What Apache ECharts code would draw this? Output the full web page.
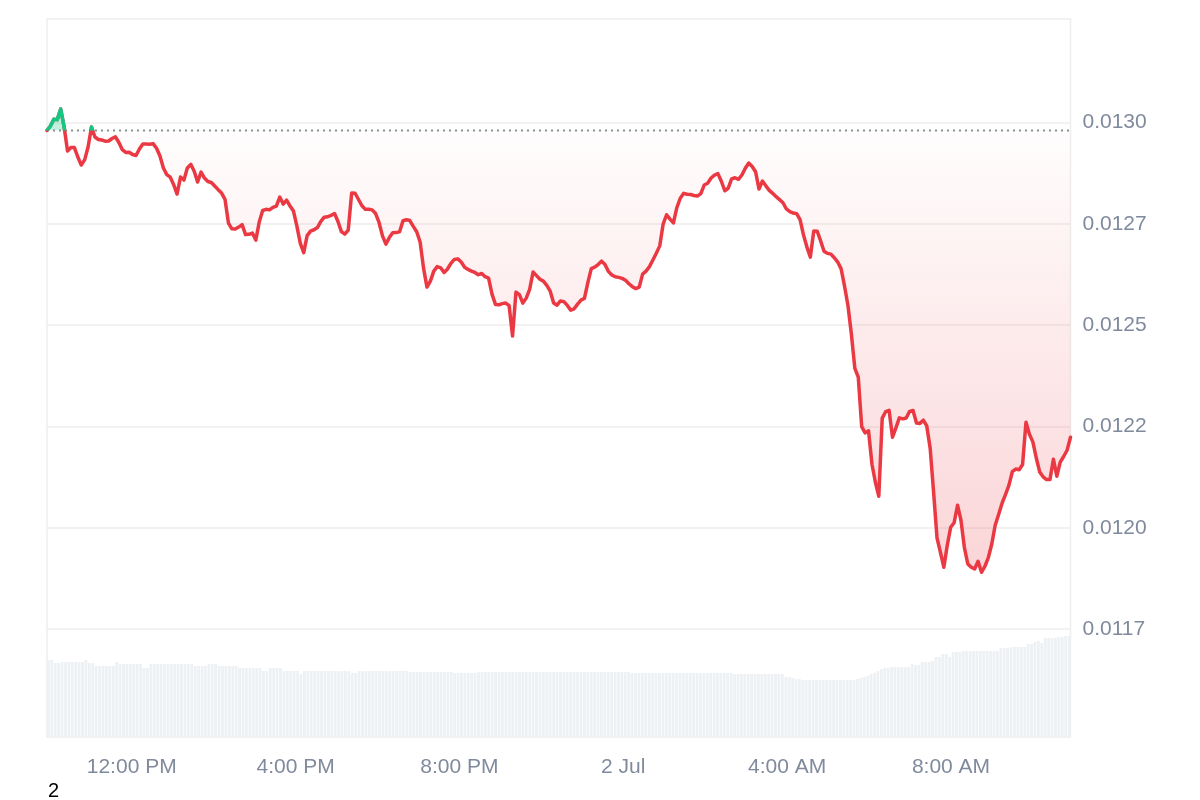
<!DOCTYPE html>
<html><head><meta charset="utf-8">
<script src="https://cdn.jsdelivr.net/npm/echarts@6/dist/echarts.min.js"></script>
<style>html,body{margin:0;padding:0;background:#fff}#c{width:1200px;height:800px}</style>
</head><body><div id="c"></div>
<script>
// ---- data ----
const startTime = Date.UTC(2024, 6, 1, 9, 58);
const stepMinutes = 5;
const prices = [
0.0129807,0.0129918,0.0130086,0.0130076,0.0130338,0.0129894,0.0129301,0.0129387,0.0129385,0.0129153,
0.0128955,0.0129083,0.0129400,0.0129894,0.0129647,0.0129585,0.0129572,0.0129545,0.0129548,0.0129610,
0.0129652,0.0129511,0.0129333,0.0129266,0.0129271,0.0129214,0.0129190,0.0129350,0.0129474,0.0129474,
0.0129469,0.0129484,0.0129370,0.0129177,0.0128881,0.0128718,0.0128654,0.0128471,0.0128238,0.0128658,
0.0128584,0.0128881,0.0128972,0.0128802,0.0128535,0.0128782,0.0128634,0.0128547,0.0128523,0.0128436,
0.0128347,0.0128263,0.0128108,0.0127522,0.0127379,0.0127374,0.0127423,0.0127482,0.0127238,0.0127245,
0.0127275,0.0127102,0.0127547,0.0127833,0.0127861,0.0127848,0.0127910,0.0127942,0.0128164,0.0127991,
0.0128090,0.0127942,0.0127819,0.0127448,0.0127021,0.0126793,0.0127213,0.0127324,0.0127357,0.0127411,
0.0127562,0.0127668,0.0127678,0.0127712,0.0127757,0.0127562,0.0127310,0.0127250,0.0127349,0.0128263,
0.0128258,0.0128103,0.0127949,0.0127861,0.0127861,0.0127848,0.0127757,0.0127537,0.0127206,0.0127003,
0.0127164,0.0127282,0.0127287,0.0127305,0.0127579,0.0127604,0.0127584,0.0127440,0.0127307,0.0127053,
0.0126410,0.0125941,0.0126089,0.0126336,0.0126447,0.0126418,0.0126299,0.0126388,0.0126529,0.0126625,
0.0126638,0.0126559,0.0126430,0.0126378,0.0126336,0.0126302,0.0126247,0.0126277,0.0126198,0.0126163,
0.0125768,0.0125514,0.0125504,0.0125533,0.0125548,0.0125482,0.0124731,0.0125817,0.0125756,0.0125546,
0.0125669,0.0125884,0.0126312,0.0126225,0.0126134,0.0126089,0.0125985,0.0125842,0.0125546,0.0125496,
0.0125600,0.0125583,0.0125489,0.0125373,0.0125405,0.0125521,0.0125620,0.0125662,0.0126052,0.0126398,
0.0126433,0.0126497,0.0126583,0.0126497,0.0126329,0.0126242,0.0126195,0.0126181,0.0126156,0.0126109,
0.0126023,0.0125951,0.0125904,0.0125941,0.0126262,0.0126336,0.0126447,0.0126610,0.0126778,0.0126959,
0.0127497,0.0127727,0.0127621,0.0127525,0.0127905,0.0128135,0.0128256,0.0128234,0.0128228,0.0128204,
0.0128189,0.0128251,0.0128461,0.0128505,0.0128634,0.0128705,0.0128742,0.0128555,0.0128320,0.0128382,
0.0128611,0.0128641,0.0128602,0.0128708,0.0128876,0.0129004,0.0128918,0.0128789,0.0128362,0.0128560,
0.0128441,0.0128330,0.0128256,0.0128174,0.0128100,0.0128024,0.0127870,0.0127804,0.0127769,0.0127754,
0.0127606,0.0127226,0.0126929,0.0126682,0.0127324,0.0127322,0.0127082,0.0126828,0.0126774,0.0126756,
0.0126665,0.0126559,0.0126391,0.0125961,0.0125479,0.0124770,0.0123935,0.0123718,0.0122497,0.0122342,
0.0122394,0.0121568,0.0121124,0.0120778,0.0122705,0.0122865,0.0122897,0.0122235,0.0122465,0.0122712,
0.0122687,0.0122710,0.0122873,0.0122895,0.0122586,0.0122576,0.0122655,0.0122515,0.0121966,0.0120887,
0.0119750,0.0119390,0.0119024,0.0119567,0.0120012,0.0120123,0.0120556,0.0120185,0.0119511,0.0119105,
0.0119024,0.0118982,0.0119172,0.0118900,0.0119049,0.0119261,0.0119599,0.0120061,0.0120326,0.0120605,
0.0120820,0.0121047,0.0121383,0.0121450,0.0121430,0.0121561,0.0122606,0.0122310,0.0122119,0.0121722,
0.0121378,0.0121257,0.0121190,0.0121188,0.0121692,0.0121272,0.0121618,0.0121759,0.0121914,0.0122235
];
const volumes = [
77,77,74,74,75,75,75,75,75,75,
75,77,74,74,71,71,71,71,71,71,
75,73,73,73,73,73,73,73,69,69,
73,73,73,73,73,73,73,73,73,73,
73,73,73,71,71,71,71,73,73,73,
71,71,71,71,71,71,69,69,69,69,
69,69,69,66,66,69,69,69,69,66,
66,66,66,66,63,66,66,66,66,66,
66,66,66,66,66,66,66,66,66,64,
64,66,66,66,66,66,66,66,66,66,
66,66,66,66,66,66,65,65,65,65,
65,65,65,65,65,65,65,65,65,64,
64,64,64,64,64,64,65,65,65,65,
65,65,65,65,65,65,65,65,65,65,
65,65,65,65,65,65,65,65,65,65,
65,65,65,65,65,65,65,65,65,65,
65,65,65,65,65,65,65,65,65,65,
65,64,64,64,64,64,64,64,64,64,
64,64,64,64,64,64,64,64,64,64,
64,64,64,64,64,64,64,64,64,64,
64,63,63,63,63,63,63,63,63,63,
63,63,63,63,63,63,60,60,59,58,
58,57,57,57,57,57,57,57,57,57,
57,57,57,57,57,57,57,58,59,60,
61,63,64,66,68,69,69,70,70,70,
70,70,70,73,72,72,75,75,75,76,
80,80,83,83,80,85,85,85,86,86,
86,86,86,86,86,86,86,86,86,89,
89,89,90,90,90,90,90,93,93,95,
96,94,99,99,99,99,100,100,101,101
];
const volumeAxisMax = 718;
const yTickValues = [0.01175, 0.01200, 0.01225, 0.01250, 0.01275, 0.01300];
const yTickLabels = ['0.0117', '0.0120', '0.0122', '0.0125', '0.0127', '0.0130'];
const xTickHours = [12, 16, 20, 0, 4, 8];
const xTickLabels = ['12:00 PM', '4:00 PM', '8:00 PM', '2 Jul', '4:00 AM', '8:00 AM'];
const footnote = '2';

// ---- build ----
const baseline = prices[0];
const times = prices.map((_, i) => startTime + i * stepMinutes * 60000);
const priceData = prices.map((p, i) => [times[i], p]);
const volData = volumes.map((v, i) => [times[i], v]);
const tMin = times[0], tMax = times[times.length - 1];
const baselineData = [[tMin, baseline], [tMax, baseline]];
const yStep = yTickValues[1] - yTickValues[0];
const yLo = yTickValues[0], yHi = yTickValues[yTickValues.length - 1];

// layout (pixels)
const H = 800;
const plotLeft = 47, plotRight = 129.5;
const tickTopPx = 122.7, tickBottomPx = 629;
const lineW = 3.5;
const pxPerUnit = (tickBottomPx - tickTopPx) / (yHi - yLo);
// green-zone grid: same scale, bottom edge (plus half a line width of clip margin) sits on the baseline
const greenMax = yHi + yStep;
const greenTopPx = tickTopPx - yStep * pxPerUnit;
const baselinePx = tickTopPx + (yHi - baseline) * pxPerUnit;
const greenBottomPx = baselinePx - lineW / 2;
const greenMin = baseline + (lineW / 2) / pxPerUnit;

const chart = echarts.init(document.getElementById('c'), null, {renderer: 'canvas'});
const labelColor = '#808a9d';
const font = 'Liberation Sans, Arial, Helvetica, sans-serif';

chart.setOption({
  animation: false,
  useUTC: true,
  backgroundColor: '#ffffff',
  textStyle: {fontFamily: font},
  grid: [
    {left: plotLeft, right: plotRight, top: tickTopPx, bottom: H - tickBottomPx, outerBoundsMode: 'none', containLabel: false},
    {left: plotLeft, right: plotRight, top: 19, bottom: 63, show: true, borderColor: '#eeeeee', borderWidth: 1.5,
     backgroundColor: 'transparent', outerBoundsMode: 'none', containLabel: false},
    {left: plotLeft, right: plotRight, top: greenTopPx, bottom: H - greenBottomPx, outerBoundsMode: 'none', containLabel: false}
  ],
  xAxis: [
    {type: 'time', gridIndex: 0, min: tMin, max: tMax, show: false},
    {type: 'time', gridIndex: 1, min: tMin, max: tMax, splitNumber: 6,
     axisLine: {show: false}, axisTick: {show: false}, splitLine: {show: false},
     axisLabel: {color: labelColor, fontSize: 21, margin: 20, fontFamily: font,
       showMinLabel: false, showMaxLabel: false,
       formatter: function (v) {
         const d = new Date(v);
         const k = xTickHours.indexOf(d.getUTCHours());
         return (k >= 0 && d.getUTCMinutes() === 0) ? xTickLabels[k] : '';
       }}},
    {type: 'time', gridIndex: 2, min: tMin, max: tMax, show: false}
  ],
  yAxis: [
    {type: 'value', gridIndex: 0, position: 'right', min: yLo, max: yHi,
     interval: yStep, axisLine: {show: false}, axisTick: {show: false},
     splitLine: {lineStyle: {color: '#eeeeee', width: 1.5}},
     axisLabel: {color: labelColor, fontSize: 21, margin: 12, fontFamily: font,
       formatter: function (v) { return yTickLabels[Math.round((v - yLo) / yStep)] || ''; }}},
    {type: 'value', gridIndex: 1, min: 0, max: volumeAxisMax, show: false},
    {type: 'value', gridIndex: 2, min: greenMin, max: greenMax, show: false}
  ],
  series: [
    {type: 'bar', xAxisIndex: 1, yAxisIndex: 1, data: volData, barWidth: '82%',
     itemStyle: {color: '#eef1f4'}, silent: true, z: 1},
    {type: 'line', xAxisIndex: 0, yAxisIndex: 0, data: baselineData, showSymbol: false, clip: false,
     lineStyle: {color: '#8f8f8f', width: 2, type: [2, 4], cap: 'butt'}, z: 2, silent: true},
    {type: 'line', xAxisIndex: 0, yAxisIndex: 0, data: priceData, showSymbol: false, clip: false,
     lineStyle: {color: '#ea3943', width: lineW, cap: 'round', join: 'round'},
     areaStyle: {origin: baseline, color: new echarts.graphic.LinearGradient(0, 0, 0, 1, [
       {offset: 0, color: 'rgba(234,57,67,0)'}, {offset: 1, color: 'rgba(234,57,67,0.3)'}])},
     z: 3, silent: true},
    {type: 'line', xAxisIndex: 2, yAxisIndex: 2, data: priceData, showSymbol: false, clip: true,
     lineStyle: {color: '#16c784', width: lineW, cap: 'round', join: 'round'},
     areaStyle: {origin: baseline, color: 'rgba(22,199,132,0.35)'}, z: 4, silent: true}
  ],
  graphic: [{type: 'text', left: 48, top: 781, style: {text: footnote, fontSize: 20, fill: '#000000', fontFamily: font}}]
});
</script></body></html>
